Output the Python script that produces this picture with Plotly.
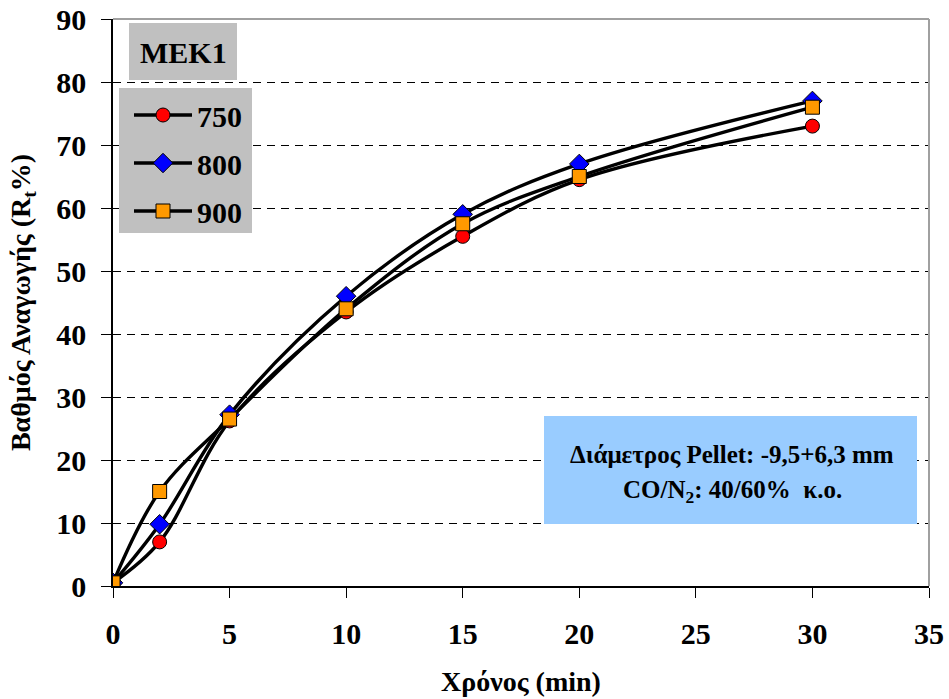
import plotly.graph_objects as go

# Reduction degree (%) versus time (min) for MEK1 pellets at three temperatures
time_min = [0, 2, 5, 10, 15, 20, 30]
series_names = ["750", "800", "900"]
r_750 = [0.5, 7.0, 26.2, 43.5, 55.5, 64.5, 73.0]
r_800 = [0.5, 9.8, 27.2, 46.0, 59.0, 67.0, 77.0]
r_900 = [0.5, 15.0, 26.5, 44.0, 57.5, 65.0, 76.0]

x_ticks = [0, 5, 10, 15, 20, 25, 30, 35]
y_ticks = [0, 10, 20, 30, 40, 50, 60, 70, 80, 90]

FONT = "Liberation Serif, Times New Roman, serif"

styles = [
    dict(symbol="circle", color="#FF0000", size=14),
    dict(symbol="diamond", color="#0000FF", size=15),
    dict(symbol="square", color="#FF9900", size=14),
]

fig = go.Figure()
for name, vals, st in zip(series_names, [r_750, r_800, r_900], styles):
    fig.add_trace(go.Scatter(
        x=time_min, y=vals, name="<b>" + name + "</b>", mode="lines+markers",
        legendgroup=name,
        line=dict(color="black", width=3.4, shape="spline", smoothing=1.0),
        marker=dict(symbol=st["symbol"], color=st["color"], size=st["size"],
                    line=dict(color="black", width=1)),
    ))

W, H = 949, 699
L, R, T, B = 113, 20, 19, 113
pw, ph = W - L - R, H - T - B


def px_x(v):
    return (v - L) / pw


def px_y(v):
    return (H - B - v) / ph


shapes = [
    # plot-area frame on the top and right
    dict(type="line", xref="paper", yref="paper", x0=0, x1=1, y0=1, y1=1,
         line=dict(color="#A0A0A0", width=2)),
    dict(type="line", xref="paper", yref="paper", x0=1, x1=1, y0=0, y1=1,
         line=dict(color="#A0A0A0", width=2)),
    # series title box
    dict(type="rect", xref="paper", yref="paper", layer="above",
         x0=px_x(129), x1=px_x(237), y0=px_y(80), y1=px_y(23),
         fillcolor="#C0C0C0", line=dict(width=0)),
    # legend box
    dict(type="rect", xref="paper", yref="paper", layer="above",
         x0=px_x(119), x1=px_x(252), y0=px_y(233), y1=px_y(88),
         fillcolor="#C0C0C0", line=dict(width=0)),
    # conditions box
    dict(type="rect", xref="paper", yref="paper", layer="above",
         x0=px_x(544), x1=px_x(917), y0=px_y(524), y1=px_y(416),
         fillcolor="#99CCFF", line=dict(width=0)),
]

note_font = dict(family=FONT, size=25, color="black")
annotations = [
    dict(text="<b>MEK1</b>", xref="paper", yref="paper", x=px_x(183), y=px_y(52),
         xanchor="center", yanchor="middle",
         showarrow=False, font=dict(family=FONT, size=30, color="black")),
    dict(text="<b>Διάμετρος Pellet: -9,5+6,3 mm</b>",
         xref="paper", yref="paper", x=px_x(732), y=px_y(454),
         xanchor="center", yanchor="middle", showarrow=False, font=note_font),
    dict(text="<b>CO/N<sub>2</sub>: 40/60%\u00a0\u00a0κ.ο.</b>",
         xref="paper", yref="paper", x=px_x(732), y=px_y(491),
         xanchor="center", yanchor="middle", showarrow=False, font=note_font),
]

axis_common = dict(
    showline=True, linecolor="black", linewidth=1.5,
    ticks="outside", ticklen=10, tickwidth=1.2, tickcolor="black",
    tickfont=dict(family=FONT, size=30, color="black", weight="bold"),
    zeroline=False, automargin=False,
)

fig.update_layout(
    width=W, height=H, autosize=False,
    margin=dict(l=L, r=R, t=T, b=B, autoexpand=False),
    paper_bgcolor="white", plot_bgcolor="white",
    font=dict(family=FONT, color="black"),
    showlegend=True,
    legend=dict(
        x=px_x(129), y=px_y(89), xanchor="left", yanchor="top",
        bgcolor="rgba(0,0,0,0)", borderwidth=0,
        font=dict(family=FONT, size=30, color="black"),
        traceorder="grouped", tracegroupgap=6, itemwidth=58,
    ),
    xaxis=dict(
        range=[0, 35], tickvals=x_ticks, showgrid=False, ticklabelstandoff=10,
        title=dict(text="<b>Χρόνος (min)</b>", standoff=23,
                   font=dict(family=FONT, size=28, color="black")),
        **axis_common,
    ),
    yaxis=dict(
        range=[0, 90], tickvals=y_ticks, showgrid=True, ticklabelstandoff=9,
        gridcolor="black", gridwidth=1, griddash="8px,6px",
        title=dict(text="<b>Βαθμός Αναγωγής (R<sub>t</sub>%)</b>", standoff=17,
                   font=dict(family=FONT, size=28, color="black")),
        **axis_common,
    ),
    shapes=shapes,
    annotations=annotations,
)

fig.write_html("out.html")
